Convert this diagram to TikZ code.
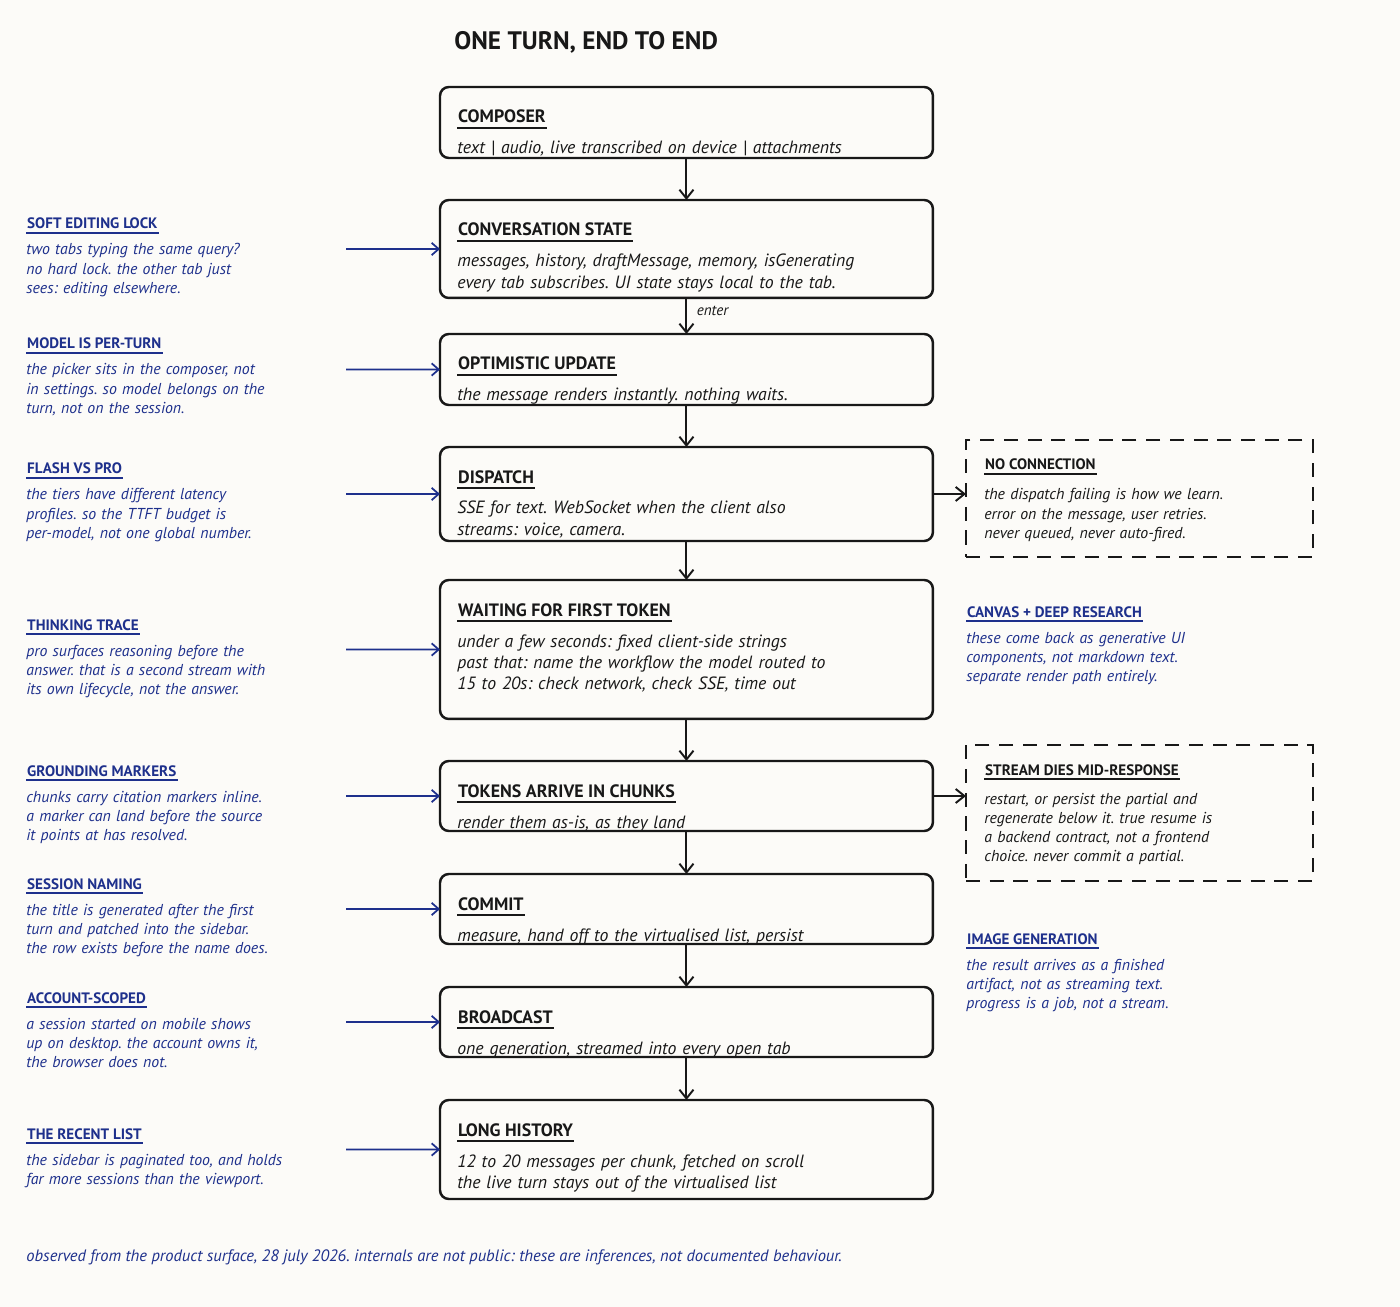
\documentclass[tikz,border=0pt]{standalone}
\usepackage{fontspec}
\setmainfont{PT Sans}
\usetikzlibrary{arrows.meta}
\definecolor{paper}{RGB}{252,251,248}
\definecolor{ink}{RGB}{24,24,24}
\definecolor{pen}{RGB}{30,48,140}
\frenchspacing

\begin{document}
\begin{tikzpicture}[x=0.02cm,y=-0.02cm,
  stepbox/.style={draw=ink,line width=1.4pt,rounded corners=5pt,inner sep=0pt,outer sep=0pt,minimum width=9.86cm,anchor=north west},
  failbox/.style={draw=ink,line width=1.3pt,dash pattern=on 8pt off 5.5pt,inner sep=0pt,outer sep=0pt,minimum width=6.94cm,anchor=north west},
  head/.style={font=\bfseries\fontsize{10.2}{12}\selectfont,text=ink,inner xsep=0.5pt,inner ysep=2.6pt,text depth=0pt,anchor=base west},
  body/.style={font=\itshape\fontsize{10.1}{12.2}\selectfont,text=ink,align=left,text width=9.2cm,inner sep=0pt,anchor=base west},
  notehead/.style={font=\bfseries\fontsize{8.6}{10}\selectfont,text=pen,inner xsep=0.5pt,inner ysep=2.2pt,text depth=0pt,anchor=base west},
  notebody/.style={font=\itshape\fontsize{9}{11}\selectfont,text=pen,align=left,text width=6.6cm,inner sep=0pt,anchor=base west},
  failhead/.style={notehead,text=ink},
  failbody/.style={notebody,text=ink},
  uline/.style={draw=ink,line width=1.1pt},
  nline/.style={draw=pen,line width=0.9pt},
  flow/.style={draw=ink,line width=1.1pt,-{Straight Barb[length=5pt,width=8pt,line width=1.1pt]}},
  lead/.style={draw=pen,line width=1pt,-{Straight Barb[length=4pt,width=7pt,line width=1pt]}}]

\fill[paper] (0,0) rectangle (1400,1307);
\useasboundingbox (0,0) rectangle (1400,1307);

\node[font=\bfseries\fontsize{14.4}{16}\selectfont,text=ink,inner sep=0pt,anchor=base west] (title) at (454,50) {ONE TURN, END TO END};

% the turn, top to bottom
\node[stepbox,minimum height=1.42cm] (composer) at (440,87) {};
\node[head] (composer-h) at ([shift={(17,36)}]composer.north west) {COMPOSER};
\draw[uline] (composer-h.south west) -- (composer-h.south east);
\node[body] (composer-b) at ([shift={(17,67)}]composer.north west) {text | audio, live transcribed on device | attachments};

\node[stepbox,minimum height=1.96cm] (state) at (440,200) {};
\node[head] (state-h) at ([shift={(17,36)}]state.north west) {CONVERSATION STATE};
\draw[uline] (state-h.south west) -- (state-h.south east);
\node[body] (state-b) at ([shift={(17,67)}]state.north west) {messages, history, draftMessage, memory, isGenerating\\every tab subscribes. UI state stays local to the tab.};

\node[stepbox,minimum height=1.42cm] (update) at (440,334) {};
\node[head] (update-h) at ([shift={(17,36)}]update.north west) {OPTIMISTIC UPDATE};
\draw[uline] (update-h.south west) -- (update-h.south east);
\node[body] (update-b) at ([shift={(17,67)}]update.north west) {the message renders instantly. nothing waits.};

\node[stepbox,minimum height=1.88cm] (dispatch) at (440,447) {};
\node[head] (dispatch-h) at ([shift={(17,36)}]dispatch.north west) {DISPATCH};
\draw[uline] (dispatch-h.south west) -- (dispatch-h.south east);
\node[body] (dispatch-b) at ([shift={(17,67)}]dispatch.north west) {SSE for text. WebSocket when the client also\\streams: voice, camera.};

\node[stepbox,minimum height=2.78cm] (wait) at (440,580) {};
\node[head] (wait-h) at ([shift={(17,36)}]wait.north west) {WAITING FOR FIRST TOKEN};
\draw[uline] (wait-h.south west) -- (wait-h.south east);
\node[body] (wait-b) at ([shift={(17,67)}]wait.north west) {under a few seconds: fixed client-side strings\\past that: name the workflow the model routed to\\15 to 20s: check network, check SSE, time out};

\node[stepbox,minimum height=1.40cm] (tokens) at (440,761) {};
\node[head] (tokens-h) at ([shift={(17,36)}]tokens.north west) {TOKENS ARRIVE IN CHUNKS};
\draw[uline] (tokens-h.south west) -- (tokens-h.south east);
\node[body] (tokens-b) at ([shift={(17,67)}]tokens.north west) {render them as-is, as they land};

\node[stepbox,minimum height=1.40cm] (commit) at (440,874) {};
\node[head] (commit-h) at ([shift={(17,36)}]commit.north west) {COMMIT};
\draw[uline] (commit-h.south west) -- (commit-h.south east);
\node[body] (commit-b) at ([shift={(17,67)}]commit.north west) {measure, hand off to the virtualised list, persist};

\node[stepbox,minimum height=1.40cm] (broadcast) at (440,987) {};
\node[head] (broadcast-h) at ([shift={(17,36)}]broadcast.north west) {BROADCAST};
\draw[uline] (broadcast-h.south west) -- (broadcast-h.south east);
\node[body] (broadcast-b) at ([shift={(17,67)}]broadcast.north west) {one generation, streamed into every open tab};

\node[stepbox,minimum height=1.98cm] (history) at (440,1100) {};
\node[head] (history-h) at ([shift={(17,36)}]history.north west) {LONG HISTORY};
\draw[uline] (history-h.south west) -- (history-h.south east);
\node[body] (history-b) at ([shift={(17,67)}]history.north west) {12 to 20 messages per chunk, fetched on scroll\\the live turn stays out of the virtualised list};

\draw[flow] (composer.south) -- (state.north);
\draw[flow] (state.south) -- node[right,font=\itshape\fontsize{8.6}{10}\selectfont,text=ink,xshift=2pt,yshift=3pt] (enter) {enter} (update.north);
\draw[flow] (update.south) -- (dispatch.north);
\draw[flow] (dispatch.south) -- (wait.north);
\draw[flow] (wait.south) -- (tokens.north);
\draw[flow] (tokens.south) -- (commit.north);
\draw[flow] (commit.south) -- (broadcast.north);
\draw[flow] (broadcast.south) -- (history.north);

% failure paths
\node[failbox,minimum height=2.34cm] (nocon) at (966,440) {};
\node[failhead] (nocon-h) at (984,470) {NO CONNECTION};
\draw[uline,line width=0.9pt] (nocon-h.south west) -- (nocon-h.south east);
\node[failbody] (nocon-b) at (984,500) {the dispatch failing is how we learn.\\error on the message, user retries.\\never queued, never auto-fired.};
\draw[flow] (dispatch.east) -- (dispatch.east -| nocon.west);

\node[failbox,minimum height=2.72cm] (dies) at (966,745) {};
\node[failhead] (dies-h) at (984,775) {STREAM DIES MID-RESPONSE};
\draw[uline,line width=0.9pt] (dies-h.south west) -- (dies-h.south east);
\node[failbody] (dies-b) at (984,804) {restart, or persist the partial and\\regenerate below it. true resume is\\a backend contract, not a frontend\\choice. never commit a partial.};
\draw[flow] (tokens.east) -- (tokens.east -| dies.west);

% notes on the right
\node[notehead] (canvas-h) at (966,617) {CANVAS + DEEP RESEARCH};
\draw[nline] (canvas-h.south west) -- (canvas-h.south east);
\node[notebody] (canvas-b) at (966,643) {these come back as generative UI\\components, not markdown text.\\separate render path entirely.};

\node[notehead] (image-h) at (966,944) {IMAGE GENERATION};
\draw[nline] (image-h.south west) -- (image-h.south east);
\node[notebody] (image-b) at (966,970) {the result arrives as a finished\\artifact, not as streaming text.\\progress is a job, not a stream.};

% notes on the left
\node[notehead] (lock-h) at (26,229) {SOFT EDITING LOCK};
\draw[nline] (lock-h.south west) -- (lock-h.south east);
\node[notebody] (lock-b) at (26,255) {two tabs typing the same query?\\no hard lock. the other tab just\\sees: editing elsewhere.};
\coordinate (lock-a) at (346,249);
\draw[lead] (lock-a) -- (state.west);

\node[notehead] (model-h) at (26,349) {MODEL IS PER-TURN};
\draw[nline] (model-h.south west) -- (model-h.south east);
\node[notebody] (model-b) at (26,375) {the picker sits in the composer, not\\in settings. so model belongs on the\\turn, not on the session.};
\coordinate (model-a) at (346,369.5);
\draw[lead] (model-a) -- (update.west);

\node[notehead] (flash-h) at (26,474) {FLASH VS PRO};
\draw[nline] (flash-h.south west) -- (flash-h.south east);
\node[notebody] (flash-b) at (26,500) {the tiers have different latency\\profiles. so the TTFT budget is\\per-model, not one global number.};
\coordinate (flash-a) at (346,494);
\draw[lead] (flash-a) -- (dispatch.west);

\node[notehead] (think-h) at (26,630) {THINKING TRACE};
\draw[nline] (think-h.south west) -- (think-h.south east);
\node[notebody] (think-b) at (26,656) {pro surfaces reasoning before the\\answer. that is a second stream with\\its own lifecycle, not the answer.};
\coordinate (think-a) at (346,649.5);
\draw[lead] (think-a) -- (wait.west);

\node[notehead] (ground-h) at (26,776) {GROUNDING MARKERS};
\draw[nline] (ground-h.south west) -- (ground-h.south east);
\node[notebody] (ground-b) at (26,802) {chunks carry citation markers inline.\\a marker can land before the source\\it points at has resolved.};
\coordinate (ground-a) at (346,796);
\draw[lead] (ground-a) -- (tokens.west);

\node[notehead] (naming-h) at (26,889) {SESSION NAMING};
\draw[nline] (naming-h.south west) -- (naming-h.south east);
\node[notebody] (naming-b) at (26,915) {the title is generated after the first\\turn and patched into the sidebar.\\the row exists before the name does.};
\coordinate (naming-a) at (346,909);
\draw[lead] (naming-a) -- (commit.west);

\node[notehead] (account-h) at (26,1003) {ACCOUNT-SCOPED};
\draw[nline] (account-h.south west) -- (account-h.south east);
\node[notebody] (account-b) at (26,1029) {a session started on mobile shows\\up on desktop. the account owns it,\\the browser does not.};
\coordinate (account-a) at (346,1022);
\draw[lead] (account-a) -- (broadcast.west);

\node[notehead] (recent-h) at (26,1139) {THE RECENT LIST};
\draw[nline] (recent-h.south west) -- (recent-h.south east);
\node[notebody] (recent-b) at (26,1165) {the sidebar is paginated too, and holds\\far more sessions than the viewport.};
\coordinate (recent-a) at (346,1149.5);
\draw[lead] (recent-a) -- (history.west);

\node[font=\itshape\fontsize{9.4}{11}\selectfont,text=pen,inner sep=0pt,anchor=base west] (footer) at (26,1261) {observed from the product surface, 28 july 2026. internals are not public: these are inferences, not documented behaviour.};
\end{tikzpicture}
\end{document}
